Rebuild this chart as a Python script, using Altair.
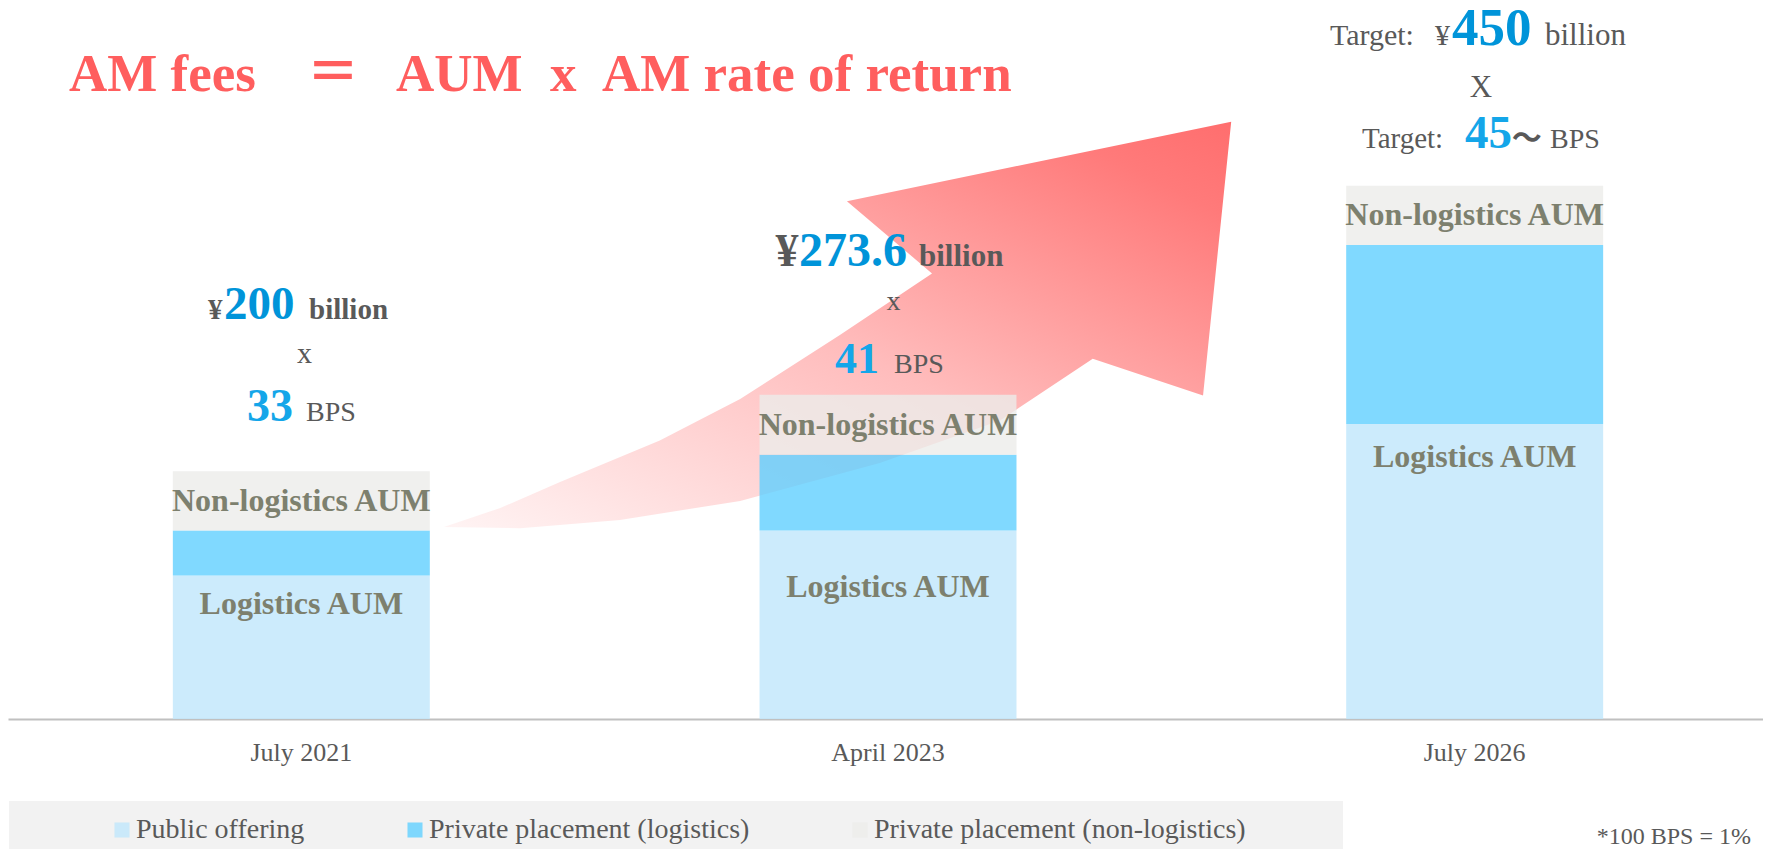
import altair as alt
import pandas as pd

# ---------------- data ----------------
categories = ["July 2021", "April 2023", "July 2026"]
series_names = ["Public offering", "Private placement (logistics)", "Private placement (non-logistics)"]
public_offering = [121, 159, 249]
private_logistics = [38, 64, 151]
private_non_logistics = [50, 50.6, 50]
aum_billion = ["200", "273.6", "450"]
fee_bps = ["33", "41", "45"]
segment_labels = ["Logistics AUM", "Non-logistics AUM"]
headline = ["AM fees", "＝", "AUM", "x", "AM rate of return"]
footnote = "*100 BPS = 1%"
# decorative growth arrow outline, in (bar position, billion yen) units
arrow_pos = [0.243, 0.373, 0.543, 0.748, 0.986, 1.191, 1.349, 1.537, 1.585, 0.930,
             1.075, 0.918, 0.748, 0.611, 0.441, 0.339]
arrow_val = [162, 161, 168, 184, 216, 252, 304, 273, 504, 437,
             376, 324, 270, 235, 200, 178]

# ---------------- style ----------------
SERIF = "Liberation Serif"
CJK = "Noto Sans CJK JP"
GRAY = "#595959"
BLUE = "#0094d9"
BLUE2 = "#14a6e9"
RED = "#ff5e5e"
SEG = "#7d806e"
W, H, YMAX = 1752, 711, 600
XRANGE = [0, 1760]
bar_colors = ["#bfe6fb", "#60cfff", "#ececea"]

xscale = alt.Scale(domain=categories, range=XRANGE, paddingInner=0.562, paddingOuter=0.281)
yscale = alt.Scale(domain=[0, YMAX], nice=False, zero=True)

rows = []
for i, c in enumerate(categories):
    for k, vals in enumerate([public_offering, private_logistics, private_non_logistics]):
        rows.append({"cat": c, "series": series_names[k], "value": vals[i], "k": k})
bars_df = pd.DataFrame(rows)

totals = [public_offering[i] + private_logistics[i] + private_non_logistics[i] for i in range(3)]

bg = alt.Chart(pd.DataFrame({"a": [0]})).mark_rect(color="#f2f2f2").encode(
    x=alt.value(1), x2=alt.value(1335), y=alt.value(793), y2=alt.value(845)
)

arrow_df = pd.DataFrame({"u": arrow_pos, "v": arrow_val, "i": list(range(len(arrow_pos)))})
arrow = alt.Chart(arrow_df).mark_line(
    fill=alt.Gradient(
        gradient="linear",
        stops=[
            alt.GradientStop(color="#fff4f4", offset=0),
            alt.GradientStop(color="#ffbcbc", offset=0.48),
            alt.GradientStop(color="#ff7a7a", offset=0.88),
            alt.GradientStop(color="#ff6e6e", offset=1),
        ],
        x1=0, y1=1, x2=1, y2=0,
    ),
    strokeOpacity=0,
    interpolate="linear",
).encode(
    x=alt.X("u:Q", scale=alt.Scale(domain=[-0.5, 2.5], range=XRANGE, nice=False, zero=False),
            axis=None),
    y=alt.Y("v:Q", scale=yscale, axis=None),
    order="i:Q",
)

bars = alt.Chart(bars_df).mark_bar(opacity=0.8).encode(
    x=alt.X("cat:N", sort=categories, scale=xscale,
            axis=alt.Axis(title=None, labelAngle=0, ticks=False, labelPadding=20,
                          labelFont=SERIF, labelFontSize=26, labelColor=GRAY,
                          domainColor="#c0c0c0", domainWidth=2)),
    y=alt.Y("value:Q", stack="zero", scale=yscale, axis=None),
    color=alt.Color("series:N", scale=alt.Scale(domain=series_names, range=bar_colors),
                    legend=alt.Legend(orient="none", legendX=100, legendY=808,
                                      direction="horizontal", title=None,
                                      symbolType="square", symbolSize=225,
                                      symbolStrokeWidth=0, symbolOpacity=0.8,
                                      labelFont=SERIF, labelFontSize=28, labelColor=GRAY,
                                      labelOffset=0, columnPadding=96, padding=0,
                                      labelLimit=1000, zindex=1)),
    order=alt.Order("k:Q", sort="ascending"),
)


def piece(i, text, anchor, dx, dy, size, weight="normal", color=GRAY, align="left", font=SERIF):
    d = pd.DataFrame({"cat": [categories[i]], "yv": [anchor], "t": [text]})
    return alt.Chart(d).mark_text(
        align=align, baseline="alphabetic", dx=dx, dy=dy, fontSize=size,
        fontWeight=weight, color=color, font=font
    ).encode(
        x=alt.X("cat:N", scale=xscale, axis=None),
        y=alt.Y("yv:Q", scale=yscale, axis=None),
        text="t:N",
    )


def fixed(text, x, y, size, weight="normal", color=GRAY, align="left", font=SERIF):
    return alt.Chart(pd.DataFrame({"t": [text]})).mark_text(
        align=align, baseline="alphabetic", fontSize=size, fontWeight=weight,
        color=color, font=font
    ).encode(x=alt.value(x), y=alt.value(y), text="t:N")


layers = [bg, arrow, bars]

# segment labels
log_dy = [38, 66, 43]
for i in range(3):
    layers.append(piece(i, segment_labels[0], public_offering[i], 0, log_dy[i], 32,
                        "bold", SEG, "center"))
    mid = public_offering[i] + private_logistics[i] + private_non_logistics[i] / 2
    layers.append(piece(i, segment_labels[1], mid, 0, 10, 32, "bold", SEG, "center"))

# bar 1 annotation
t = totals[0]
layers += [
    piece(0, "¥", t, -93.3, -152.3, 29, "bold"),
    piece(0, aum_billion[0], t, -77.3, -152.3, 47, "bold", BLUE),
    piece(0, "billion", t, 7.7, -152.3, 29, "bold"),
    piece(0, "x", t, 3.2, -108.3, 30, "normal", GRAY, "center"),
    piece(0, fee_bps[0], t, -54.3, -50.3, 46, "bold", BLUE2),
    piece(0, "BPS", t, 4.7, -50.3, 28),
]
# bar 2 annotation
t = totals[1]
layers += [
    piece(1, "¥", t, -112.5, -128.8, 46, "bold"),
    piece(1, aum_billion[1], t, -89, -128.8, 48, "bold", BLUE),
    piece(1, "billion", t, 31, -128.8, 31, "bold"),
    piece(1, "x", t, 5.5, -84.8, 28, "normal", GRAY, "center"),
    piece(1, fee_bps[1], t, -53, -21.8, 44, "bold", BLUE2),
    piece(1, "BPS", t, 6, -21.8, 28),
]
# bar 3 annotation
t = totals[2]
layers += [
    piece(2, "Target:", t, -144.7, -140.75, 30),
    piece(2, "¥", t, -39.7, -140.75, 30),
    piece(2, aum_billion[2], t, -22.7, -140.75, 53, "bold", BLUE),
    piece(2, "billion", t, 70.3, -140.75, 31),
    piece(2, "X", t, 6.3, -88.75, 31, "normal", GRAY, "center"),
    piece(2, "Target:", t, -112.7, -37.75, 29),
    piece(2, fee_bps[2], t, -9.7, -37.75, 47, "bold", BLUE2),
    piece(2, "～", t, 37, -37.75, 30, "bold", GRAY, "left", CJK),
    piece(2, "BPS", t, 75.3, -37.75, 28),
]

# headline
layers += [
    fixed(headline[0], 61, 83, 53, "bold", RED),
    fixed(headline[1], 325, 83, 53, "bold", RED, "center", CJK),
    fixed(headline[2], 388, 83, 53, "bold", RED),
    fixed(headline[3], 542, 83, 53, "bold", RED),
    fixed(headline[4], 594, 83, 53, "bold", RED),
    fixed(footnote, 1743, 836, 24, "normal", GRAY, "right"),
]

chart = alt.layer(*layers).resolve_scale(x="independent").properties(
    width=W, height=H,
    autosize=alt.AutoSizeParams(type="none"),
    padding={"left": 0, "right": 3, "top": 0, "bottom": 130},
).configure_view(strokeWidth=0)

chart.save("out.html", embed_options={"renderer": "svg", "actions": False})
